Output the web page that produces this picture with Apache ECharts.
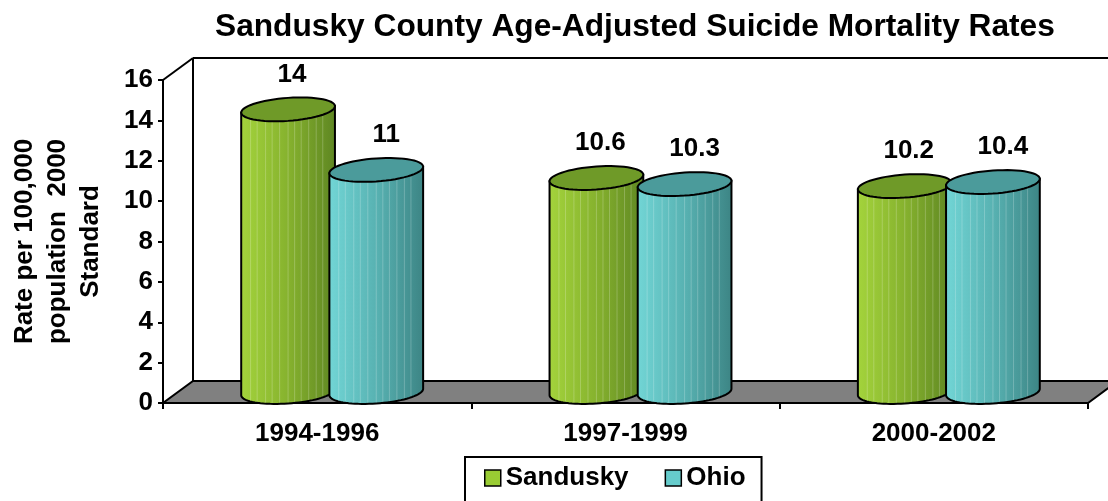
<!DOCTYPE html>
<html>
<head>
<meta charset="utf-8">
<script src="https://cdn.jsdelivr.net/npm/echarts@6/dist/echarts.min.js"></script>
<style>html,body{margin:0;padding:0;background:#fff}#c{width:1108px;height:501px}</style>
</head>
<body>
<div id="c"></div>
<script>
const categories = ['1994-1996', '1997-1999', '2000-2002'];
const sandusky = [14, 10.6, 10.2];
const ohio = [11, 10.3, 10.4];
const yMin = 0, yMax = 16, yInterval = 2;
const titleText = 'Sandusky County Age-Adjusted Suicide Mortality Rates';
const yName = 'Rate per 100,000\npopulation  2000\nStandard';

const FONT = '"Liberation Sans", Arial, sans-serif';
const DX = 30, DY = -22;

function frameItem(params, api) {
  const cs = params.coordSys;
  const x0 = cs.x, x1 = cs.x + cs.width, yt = cs.y, yb = cs.y + cs.height;
  const ls = { stroke: '#000', lineWidth: 2, fill: null };
  return {
    type: 'group',
    children: [
      { type: 'polygon', shape: { points: [[x0, yb], [x1, yb], [x1 + DX, yb + DY], [x0 + DX, yb + DY]] },
        style: { fill: '#808080', stroke: '#000', lineWidth: 2 } },
      { type: 'line', shape: { x1: x0 + DX, y1: yb + DY, x2: x0 + DX, y2: yt + DY }, style: ls },
      { type: 'line', shape: { x1: x0 + DX, y1: yt + DY, x2: x1 + DX, y2: yt + DY }, style: ls },
      { type: 'line', shape: { x1: x0, y1: yt, x2: x0 + DX, y2: yt + DY }, style: ls }
    ]
  };
}

function cylinder(side, bodyStops, topColor, labelShift) {
  return function (params, api) {
    const cat = api.value(0), v = api.value(1);
    const top = api.coord([cat, v]);
    const base = api.coord([cat, 0]);
    const band = api.size([1, 0])[0];
    const rx = band * 0.152, ry = 11.5, k = 3.2;
    const cx = top[0] + DX / 2 + side * band * 0.143;
    const ty = top[1] + DY / 2, by = base[1] + DY / 2;
    const E = (c, t) => [cx + rx * Math.cos(t), c + ry * Math.sin(t) - k * Math.cos(t)];
    const body = [];
    body.push(E(ty, Math.PI));
    const N = 40;
    for (let i = 0; i <= N; i++) {
      const t = Math.PI - Math.PI * i / N;
      body.push(E(by, t));
    }
    body.push(E(ty, 0));
    const topPts = [];
    for (let i = 0; i < 60; i++) topPts.push(E(ty, 2 * Math.PI * i / 60));
    const children = [
      { type: 'polygon', shape: { points: body },
        style: { fill: new echarts.graphic.LinearGradient(0, 0, 1, 0, bodyStops), stroke: '#000', lineWidth: 2 } }
    ];
    const fr = [0.1, 0.17, 0.26, 0.33, 0.41, 0.5, 0.57, 0.64, 0.72, 0.8, 0.87];
    fr.forEach(f => {
      const u = f * 2 - 1;
      const x = cx + rx * u;
      const s = Math.sqrt(1 - u * u);
      children.push({ type: 'line', shape: { x1: x, y1: ty + ry * s - k * u, x2: x, y2: by + ry * s - k * u - 1 },
        style: { stroke: 'rgba(255,255,255,0.22)', lineWidth: 1 } });
    });
    children.push({ type: 'polygon', shape: { points: topPts },
      style: { fill: topColor, stroke: '#000', lineWidth: 2 } });
    children.push({ type: 'text', style: { text: String(v), x: cx + labelShift, y: ty - 35,
      align: 'center', verticalAlign: 'middle', font: 'bold 26px ' + FONT, fill: '#000' } });
    return { type: 'group', children };
  };
}

const chart = echarts.init(document.getElementById('c'), null, { renderer: 'canvas' });
chart.setOption({
  animation: false,
  backgroundColor: '#fff',
  title: { text: titleText, left: 215, top: 11, padding: 0,
    textStyle: { fontFamily: FONT, fontWeight: 'bold', fontSize: 31.7, color: '#000' } },
  legend: {
    left: 465, top: 457, orient: 'horizontal',
    borderColor: '#000', borderWidth: 2, padding: [8, 16, 20, 19],
    itemWidth: 16, itemHeight: 16, itemGap: 36,
    textStyle: { fontFamily: FONT, fontWeight: 'bold', fontSize: 26, color: '#000' },
    data: [
      { name: 'Sandusky', icon: 'rect', itemStyle: { color: '#99cc33', borderColor: '#000', borderWidth: 1.5 } },
      { name: 'Ohio', icon: 'rect', itemStyle: { color: '#66cccc', borderColor: '#000', borderWidth: 1.5 } }
    ]
  },
  grid: { left: 163, right: 20, top: 80, bottom: 98, containLabel: false },
  xAxis: {
    type: 'category', data: categories, boundaryGap: true,
    axisLine: { lineStyle: { color: '#000', width: 2 } },
    axisTick: { show: true, interval: 0, length: 6, lineStyle: { color: '#000', width: 2 } },
    axisLabel: { margin: 18, fontFamily: FONT, fontWeight: 'bold', fontSize: 26, color: '#000' },
    splitLine: { show: false }
  },
  yAxis: {
    type: 'value', min: yMin, max: yMax, interval: yInterval,
    name: yName, nameLocation: 'middle', nameRotate: 90, nameGap: 56,
    nameTextStyle: { fontFamily: FONT, fontWeight: 'bold', fontSize: 26, color: '#000', lineHeight: 33, align: 'center' },
    axisLine: { show: true, lineStyle: { color: '#000', width: 2 } },
    axisTick: { show: true, length: 5, lineStyle: { color: '#000', width: 2 } },
    axisLabel: { margin: 10, fontFamily: FONT, fontWeight: 'bold', fontSize: 26, color: '#000' },
    splitLine: { show: false }
  },
  series: [
    { type: 'custom', name: 'frame', renderItem: frameItem, data: [[0, 0]], z: 1, silent: true, clip: false,
      encode: { x: 0, y: 1 } },
    { type: 'custom', name: 'Sandusky', z: 3, clip: false, itemStyle: { color: '#99cc33' },
      renderItem: cylinder(-1, [{ offset: 0, color: '#a4d43c' }, { offset: 0.5, color: '#86b22e' }, { offset: 1, color: '#5e8622' }], '#6f9a28', 4),
      data: sandusky.map((v, i) => [i, v]), encode: { x: 0, y: 1 } },
    { type: 'custom', name: 'Ohio', z: 3, clip: false, itemStyle: { color: '#66cccc' },
      renderItem: cylinder(1, [{ offset: 0, color: '#72d6d6' }, { offset: 0.5, color: '#58b2b2' }, { offset: 1, color: '#3c8484' }], '#4b9b9b', 10),
      data: ohio.map((v, i) => [i, v]), encode: { x: 0, y: 1 } }
  ]
});
</script>
</body>
</html>
